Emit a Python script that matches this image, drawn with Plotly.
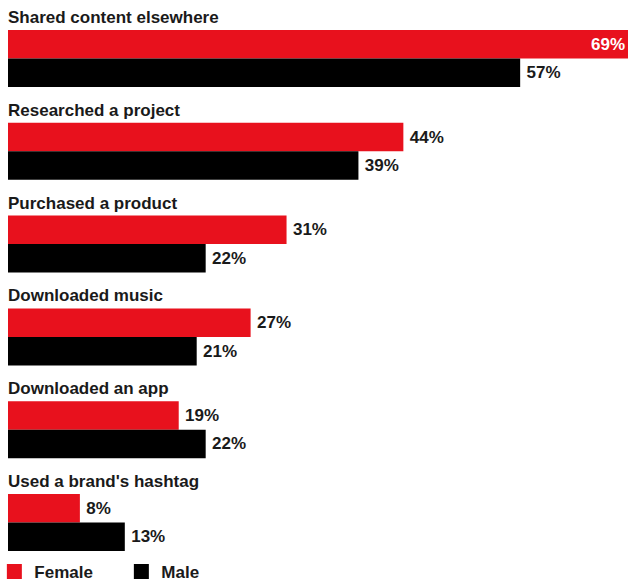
import plotly.graph_objects as go

categories = ["Shared content elsewhere", "Researched a project", "Purchased a product",
              "Downloaded music", "Downloaded an app", "Used a brand's hashtag"]
female = [69, 44, 31, 27, 19, 8]
male = [57, 39, 22, 21, 22, 13]

RED = "#E8111D"
BLACK = "#000000"
TXT = "#1a1a1a"
FONT = "Liberation Sans"

pos = list(range(len(categories)))
vmax = max(female + male)

def positions(vals):
    return ["inside" if v >= vmax else "outside" for v in vals]

fig = go.Figure()
for name, vals, col in [("Female", female, RED), ("Male", male, BLACK)]:
    fig.add_trace(go.Bar(
        name=name, y=pos, x=vals, orientation="h",
        marker=dict(color=col, line=dict(width=0)),
        text=[f"\u2009{v}%" if v < vmax else f"{v}%" for v in vals],
        textposition=positions(vals),
        insidetextanchor="end",
        textfont=dict(family=FONT, size=17, color=TXT, weight="bold"),
        insidetextfont=dict(family=FONT, size=17, color="white", weight="bold"),
        outsidetextfont=dict(family=FONT, size=17, color=TXT, weight="bold"),
        constraintext="none", cliponaxis=False,
        hoverinfo="skip", showlegend=False,
    ))
    # legend proxy with a larger square swatch
    fig.add_trace(go.Scatter(
        name=name, x=[None], y=[None], mode="markers",
        marker=dict(symbol="square", size=15, color=col),
        hoverinfo="skip", showlegend=True,
    ))

for i, c in enumerate(categories):
    fig.add_annotation(x=0, xref="paper", y=i, yref="y", text=f"<b>{c}</b>",
                       showarrow=False, xanchor="left", yanchor="middle", yshift=41,
                       xshift=-2,
                       font=dict(family=FONT, size=17, color=TXT))

fig.update_layout(
    width=628, height=581,
    margin=dict(l=8, r=0, t=0, b=30, autoexpand=False),
    paper_bgcolor="white", plot_bgcolor="white",
    barmode="group", bargap=0.386, bargroupgap=0,
    xaxis=dict(range=[0, vmax], visible=False, fixedrange=True),
    yaxis=dict(range=[5.307, -0.630], visible=False, fixedrange=True),
    legend=dict(orientation="h", x=-0.022, xanchor="left", y=-0.038, yanchor="middle",
                font=dict(family=FONT, size=17, color=TXT, weight="bold"),
                entrywidth=82, traceorder="normal", bgcolor="rgba(0,0,0,0)",
                itemwidth=30),
    showlegend=True,
)

fig.write_html("out.html")
